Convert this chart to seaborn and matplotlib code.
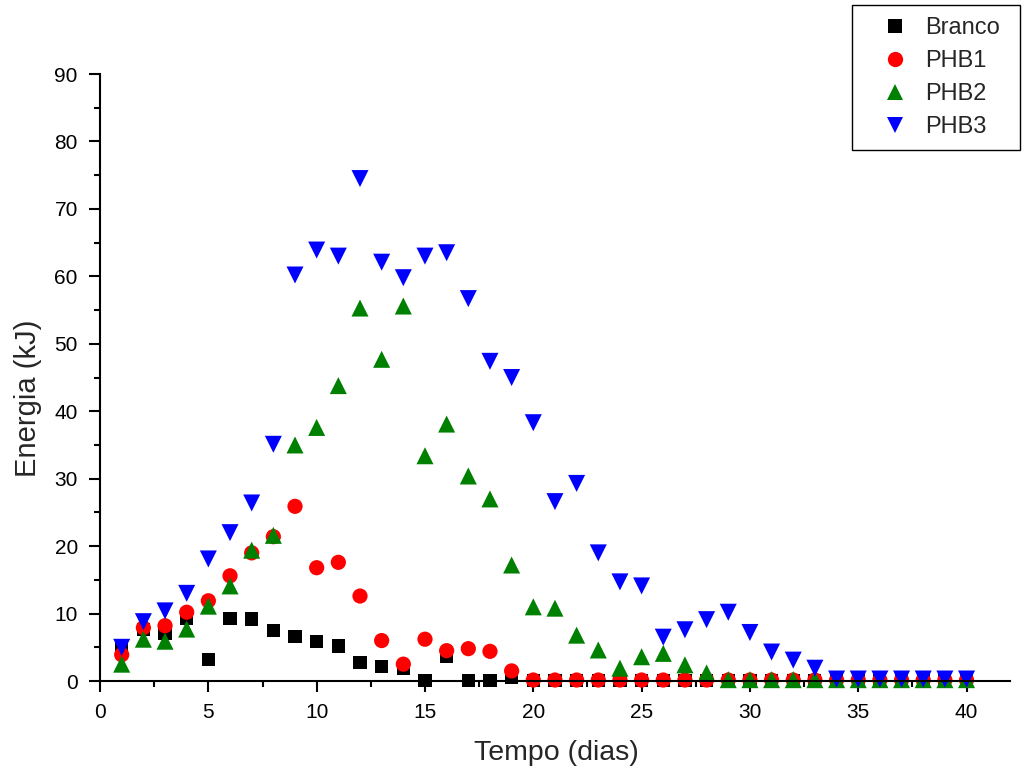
import numpy as np
import pandas as pd
import matplotlib
matplotlib.use("Agg")
import matplotlib.pyplot as plt
from matplotlib.ticker import MultipleLocator
from matplotlib.lines import Line2D
import seaborn as sns

# Daily energy (kJ) measured for each treatment, days 1..40
dias = list(range(1, 41))

branco = [4.8, 7.6, 7.1, 9.3, 3.2, 9.3, 9.2, 7.5, 6.6, 5.8,
          5.2, 2.7, 2.2, 1.8, 0.1, 3.7, 0.1, 0.1, 0.5, 0.1,
          0.1, 0.1, 0.1, 0.1, 0.1, 0.1, 0.1, 0.1, 0.1, 0.1,
          0.1, 0.1, 0.1, 0.1, 0.1, 0.1, 0.1, 0.1, 0.1, 0.1]

phb1 = [3.9, 7.9, 8.2, 10.2, 11.9, 15.6, 19.0, 21.4, 25.9, 16.8,
        17.6, 12.6, 6.0, 2.5, 6.2, 4.5, 4.8, 4.4, 1.5, 0.15,
        0.15, 0.15, 0.15, 0.15, 0.15, 0.15, 0.15, 0.15, 0.15, 0.15,
        0.15, 0.15, 0.15, 0.15, 0.15, 0.15, 0.15, 0.15, 0.15, 0.15]

phb2 = [2.5, 6.2, 5.9, 7.7, 11.1, 14.1, 19.4, 21.6, 35.0, 37.6,
        43.8, 55.3, 47.7, 55.6, 33.4, 38.1, 30.4, 27.0, 17.2, 11.0,
        10.8, 6.8, 4.6, 1.9, 3.6, 4.1, 2.4, 1.2, 0.2, 0.2,
        0.2, 0.2, 0.2, 0.2, 0.2, 0.2, 0.2, 0.2, 0.2, 0.2]

phb3 = [5.0, 8.8, 10.4, 13.0, 18.1, 22.0, 26.4, 35.1, 60.2, 63.9,
        63.0, 74.5, 62.1, 59.8, 63.0, 63.5, 56.7, 47.4, 45.0, 38.3,
        26.6, 29.3, 19.0, 14.7, 14.1, 6.5, 7.6, 9.1, 10.2, 7.2,
        4.3, 3.1, 1.9, 0.3, 0.3, 0.3, 0.3, 0.3, 0.3, 0.3]

series_names = ["Branco", "PHB1", "PHB2", "PHB3"]
series_values = [branco, phb1, phb2, phb3]

df = pd.concat(
    [pd.DataFrame({"Tempo": dias, "Energia": v, "Amostra": n})
     for n, v in zip(series_names, series_values)],
    ignore_index=True,
)

palette = {"Branco": "#000000", "PHB1": "#FF0000", "PHB2": "#008000", "PHB3": "#0000FF"}
markers = {"Branco": "s", "PHB1": "o", "PHB2": "^", "PHB3": "v"}
marker_area = {"Branco": 90, "PHB1": 120, "PHB2": 150, "PHB3": 150}

sns.set_theme(style="ticks")
plt.rcParams["font.family"] = ["Liberation Sans", "DejaVu Sans"]

fig = plt.figure(figsize=(10.24, 7.71), dpi=100)
ax = fig.add_axes([0.0977, 0.1167, 0.8885, 0.7873])

df["tam"] = df["Amostra"].map(marker_area)

sns.scatterplot(
    data=df, x="Tempo", y="Energia", hue="Amostra", style="Amostra",
    size="tam", sizes=(90, 150), palette=palette, markers=markers,
    linewidth=0, ax=ax, legend=False, clip_on=False, zorder=3,
)

ax.set_xlim(0, 42)
ax.set_ylim(0, 90)
ax.xaxis.set_major_locator(MultipleLocator(5))
ax.xaxis.set_minor_locator(MultipleLocator(2.5))
ax.yaxis.set_major_locator(MultipleLocator(10))
ax.yaxis.set_minor_locator(MultipleLocator(5))

for side in ("top", "right"):
    ax.spines[side].set_visible(False)
for side in ("left", "bottom"):
    ax.spines[side].set_linewidth(1.5)
    ax.spines[side].set_color("black")
    ax.spines[side].set_zorder(4)

ax.tick_params(which="major", direction="out", length=8, width=1.5,
               labelsize=15, colors="black", pad=8)
ax.tick_params(which="minor", direction="out", length=4, width=1.5, colors="black")

ax.set_xlabel("Tempo (dias)", fontsize=20.5)
ax.set_ylabel("Energia (kJ)", fontsize=21)
ax.xaxis.set_label_coords(0.502, -0.097)
ax.yaxis.set_label_coords(-0.064, 0.465)

# Legend with one marker per treatment
handles = [
    Line2D([], [], linestyle="none", marker=markers[n], color=palette[n],
           markeredgewidth=0, markersize=ms)
    for n, ms in zip(series_names, [9.5, 11, 12, 12])
]
leg = fig.legend(
    handles, series_names, loc="upper left", mode="expand",
    bbox_to_anchor=(852 / 1024, 0, 168 / 1024, 1 - 5 / 771), borderaxespad=0,
    fontsize=17, frameon=True, fancybox=False, edgecolor="black", framealpha=1,
    handletextpad=0.0, borderpad=0.5, labelspacing=0.47, handlelength=2.6,
)
leg.get_frame().set_linewidth(1.0)

fig.savefig("out.png", dpi=100)
